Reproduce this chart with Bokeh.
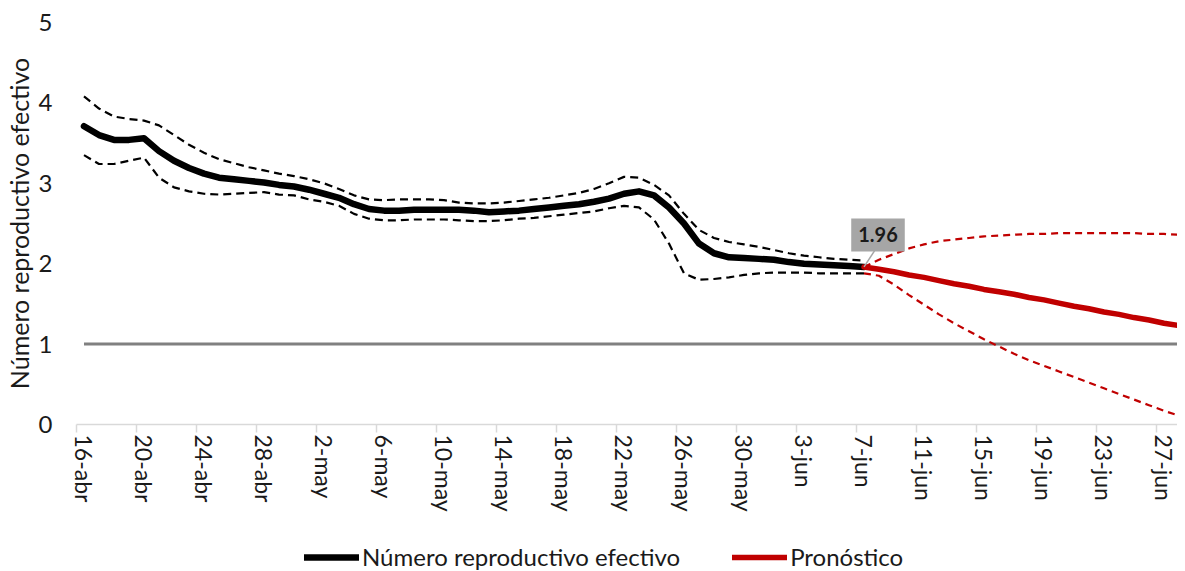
import numpy as np
from bokeh.plotting import figure
from bokeh.layouts import column
from bokeh.models import FixedTicker, Legend, LegendItem, Label, Range1d
from bokeh.embed import file_html
from bokeh.resources import INLINE

# ---------------- data ----------------
tick_labels = ["16-abr", "20-abr", "24-abr", "28-abr", "2-may", "6-may", "10-may",
               "14-may", "18-may", "22-may", "26-may", "30-may", "3-jun", "7-jun",
               "11-jun", "15-jun", "19-jun", "23-jun", "27-jun"]

# Observed effective reproduction number, daily from 16-abr to 7-jun
r_central = [3.71, 3.60, 3.54, 3.54, 3.56, 3.40, 3.28, 3.19, 3.12, 3.07,
             3.05, 3.03, 3.01, 2.98, 2.96, 2.92, 2.87, 2.82, 2.74, 2.68,
             2.66, 2.66, 2.67, 2.67, 2.67, 2.67, 2.66, 2.64, 2.65, 2.66,
             2.68, 2.70, 2.72, 2.74, 2.77, 2.81, 2.87, 2.90, 2.85, 2.70,
             2.50, 2.25, 2.13, 2.08, 2.07, 2.06, 2.05, 2.02, 2.00, 1.99,
             1.98, 1.97, 1.96]
r_upper = [4.08, 3.93, 3.83, 3.80, 3.78, 3.72, 3.60, 3.48, 3.38, 3.30,
           3.25, 3.20, 3.16, 3.12, 3.09, 3.05, 3.00, 2.93, 2.85, 2.80,
           2.79, 2.80, 2.80, 2.80, 2.79, 2.76, 2.75, 2.75, 2.76, 2.78,
           2.80, 2.82, 2.85, 2.88, 2.93, 3.00, 3.08, 3.07, 2.98, 2.85,
           2.62, 2.42, 2.32, 2.27, 2.24, 2.21, 2.17, 2.13, 2.10, 2.08,
           2.06, 2.05, 2.04]
r_lower = [3.35, 3.24, 3.24, 3.28, 3.32, 3.07, 2.95, 2.90, 2.87, 2.86,
           2.87, 2.88, 2.89, 2.86, 2.85, 2.80, 2.77, 2.72, 2.62, 2.56,
           2.54, 2.54, 2.55, 2.55, 2.55, 2.54, 2.53, 2.53, 2.54, 2.56,
           2.57, 2.59, 2.61, 2.63, 2.65, 2.69, 2.72, 2.70, 2.55, 2.25,
           1.88, 1.80, 1.81, 1.83, 1.86, 1.88, 1.89, 1.89, 1.89, 1.88,
           1.88, 1.88, 1.88]

# Forecast, daily from 7-jun onwards
fc_central = [1.96, 1.93, 1.90, 1.86, 1.83, 1.79, 1.75, 1.72, 1.68, 1.65,
              1.62, 1.58, 1.55, 1.51, 1.47, 1.44, 1.40, 1.37, 1.33, 1.30,
              1.26, 1.23]
fc_upper = [1.96, 2.05, 2.12, 2.19, 2.24, 2.28, 2.30, 2.32, 2.34, 2.35,
            2.36, 2.37, 2.37, 2.38, 2.38, 2.38, 2.38, 2.38, 2.38, 2.37,
            2.37, 2.36]
fc_lower = [1.88, 1.85, 1.74, 1.61, 1.49, 1.37, 1.26, 1.16, 1.06, 0.97,
            0.88, 0.80, 0.73, 0.66, 0.59, 0.52, 0.45, 0.38, 0.31, 0.24,
            0.17, 0.11]

threshold = 1.0
series_names = ["Número reproductivo efectivo", "Pronóstico"]

# ---------------- derived x positions ----------------
x_obs = np.arange(len(r_central))
x_fc = np.arange(len(r_central) - 1, len(r_central) - 1 + len(fc_central))
x_all = np.arange(0, len(r_central) - 1 + len(fc_central))

FONT = "Lato"
BLACK = "#000000"
RED = "#c00000"
TXT = "#1a1a1a"
W = 1177

p = figure(width=W, height=530,
           x_range=Range1d(-0.5, 72.9), y_range=Range1d(0, 5),
           output_backend="svg", toolbar_location=None,
           min_border_left=69, min_border_right=0,
           min_border_top=22, min_border_bottom=106)
p.outline_line_color = None
p.xgrid.grid_line_color = None
p.ygrid.grid_line_color = None
p.background_fill_color = "white"
p.border_fill_color = "white"

# threshold line
p.line(x_all, [threshold] * len(x_all), line_color="#808080", line_width=3)

# confidence bands
p.line(x_obs, r_upper, line_color=BLACK, line_width=2.2, line_dash="8 5")
p.line(x_obs, r_lower, line_color=BLACK, line_width=2.2, line_dash="8 5")
p.line(x_fc, fc_upper, line_color=RED, line_width=2.2, line_dash="7 5")
p.line(x_fc, fc_lower, line_color=RED, line_width=2.2, line_dash="7 5")

# central estimates
p.line(x_obs, r_central, line_color=BLACK, line_width=6.5,
       line_join="round", line_cap="round")
p.line(x_fc, fc_central, line_color=RED, line_width=5.5,
       line_join="round", line_cap="round")

# annotation for last observed value
last_x = float(x_obs[-1])
last_y = float(r_central[-1])
p.segment(x0=[last_x], y0=[last_y], x1=[last_x + 0.7], y1=[last_y + 0.2],
          line_color="#a6a6a6", line_width=1.5)
lab = Label(x=last_x, y=last_y, x_offset=14, y_offset=32,
            text=f"{last_y:.2f}", text_align="center", text_baseline="middle",
            text_font=FONT, text_font_size="20px", text_font_style="bold",
            text_color=TXT, background_fill_color="#a6a6a6",
            padding=(7, 9))
p.add_layout(lab)

# x axis
p.xaxis.ticker = FixedTicker(ticks=[4 * i for i in range(len(tick_labels))],
                             minor_ticks=[4 * i - 0.5 for i in range(len(tick_labels))])
p.xaxis.major_label_overrides = {4 * i: t for i, t in enumerate(tick_labels)}
p.xaxis.major_label_orientation = "vertical"
p.xaxis.major_tick_line_color = None
p.xaxis.major_tick_out = 0
p.xaxis.major_tick_in = 0
p.xaxis.minor_tick_line_color = "#d9d9d9"
p.xaxis.minor_tick_line_width = 1.5
p.xaxis.minor_tick_out = 8
p.xaxis.minor_tick_in = 0
p.xaxis.axis_line_color = "#d9d9d9"
p.xaxis.axis_line_width = 1.5
p.xaxis.major_label_standoff = 2
p.xaxis.major_label_text_font = FONT
p.xaxis.major_label_text_font_size = "23px"
p.xaxis.major_label_text_color = TXT

# y axis
p.yaxis.ticker = FixedTicker(ticks=[0, 1, 2, 3, 4, 5])
p.yaxis.axis_line_color = None
p.yaxis.major_tick_line_color = None
p.yaxis.minor_tick_line_color = None
p.yaxis.major_tick_out = 0
p.yaxis.major_tick_in = 0
p.yaxis.major_label_standoff = 24
p.yaxis.major_label_text_font = FONT
p.yaxis.major_label_text_font_size = "24px"
p.yaxis.major_label_text_color = TXT
p.yaxis.axis_label = "Número reproductivo efectivo"
p.yaxis.axis_label_text_font = FONT
p.yaxis.axis_label_text_font_size = "25px"
p.yaxis.axis_label_text_font_style = "normal"
p.yaxis.axis_label_text_color = TXT
p.yaxis.axis_label_standoff = 2

# ---------------- legend strip ----------------
# the series are re-plotted here only as legend keys; their values lie above
# this strip's 0..1 y range, so only the legend glyphs are visible
lg = figure(width=W, height=41, x_range=Range1d(0, 1), y_range=Range1d(0, 1),
            output_backend="svg", toolbar_location=None,
            min_border_left=0, min_border_right=0, min_border_top=0, min_border_bottom=0,
            x_axis_type=None, y_axis_type=None)
lg.outline_line_color = None
lg.xgrid.grid_line_color = None
lg.ygrid.grid_line_color = None
k_obs = lg.line(x_obs, r_central, line_color=BLACK, line_width=6.5, line_cap="round")
k_fc = lg.line(x_fc, fc_central, line_color=RED, line_width=5.5, line_cap="round")
legend = Legend(items=[LegendItem(label=series_names[0], renderers=[k_obs]),
                       LegendItem(label=series_names[1], renderers=[k_fc])],
                orientation="horizontal", location=(228, 0),
                label_text_font=FONT, label_text_font_size="24px",
                label_text_color=TXT,
                glyph_width=55, glyph_height=26, label_standoff=3, spacing=52,
                padding=0, margin=0, border_line_color=None,
                background_fill_alpha=0)
lg.add_layout(legend, "center")

open("out.html", "w").write(file_html(column(p, lg, spacing=0), INLINE))
